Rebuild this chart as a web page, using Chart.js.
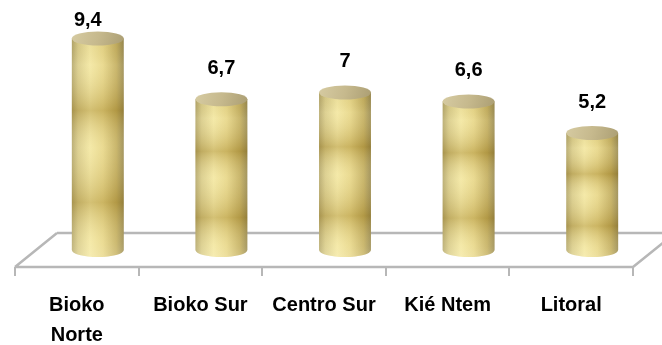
<!DOCTYPE html>
<html>
<head>
<meta charset="utf-8">
<script src="https://cdn.jsdelivr.net/npm/chart.js"></script>
<style>
  html, body { margin: 0; padding: 0; background: #fff; }
  #wrap { width: 662px; height: 345px; position: relative; }
</style>
</head>
<body>
<div id="wrap"><canvas id="chart"></canvas></div>
<script>
const regions = [['Bioko', 'Norte'], 'Bioko Sur', 'Centro Sur', 'Kié Ntem', 'Litoral'];
const values = [9.4, 6.7, 7, 6.6, 5.2];

const FONT = "'Liberation Sans', Arial, sans-serif";
const DEPTH = 42;      // horizontal shift of the floor's back edge
const FLOOR_HALF = 17; // half the floor depth in pixels

// floor: front edge with category ticks, back edge and the two sides
const floorPlugin = {
  id: 'floor',
  beforeDatasetsDraw(chart) {
    const { ctx, chartArea } = chart;
    const base = chart.scales.y.getPixelForValue(0);
    const front = base + FLOOR_HALF;
    const back = base - FLOOR_HALF;
    const left = chartArea.left;
    const right = chartArea.right;
    ctx.save();
    ctx.strokeStyle = '#b7b7b7';
    ctx.lineWidth = 2.5;
    ctx.beginPath();
    ctx.moveTo(left + DEPTH, back);
    ctx.lineTo(chart.width + 20, back);
    ctx.moveTo(left, front);
    ctx.lineTo(left + DEPTH, back);
    ctx.moveTo(right, front);
    ctx.lineTo(right + DEPTH, back);
    ctx.moveTo(left, front);
    ctx.lineTo(right, front);
    ctx.stroke();
    // tick marks between categories
    const step = (right - left) / values.length;
    ctx.lineWidth = 2;
    ctx.beginPath();
    for (let i = 0; i <= values.length; i++) {
      const tx = Math.round(left + i * step);
      ctx.moveTo(tx, front);
      ctx.lineTo(tx, front + 9);
    }
    ctx.stroke();
    ctx.restore();
  }
};

function drawCylinder(ctx, cx, top, base, w) {
  const rx = w / 2;
  const ry = 7;
  ctx.save();
  ctx.beginPath();
  ctx.moveTo(cx - rx, top);
  ctx.lineTo(cx - rx, base);
  ctx.ellipse(cx, base, rx, ry, 0, Math.PI, 0, true);
  ctx.lineTo(cx + rx, top);
  ctx.closePath();

  const side = ctx.createLinearGradient(cx - rx, 0, cx + rx, 0);
  side.addColorStop(0, '#b3a66c');
  side.addColorStop(0.12, '#d8cb8a');
  side.addColorStop(0.35, '#f3e7a3');
  side.addColorStop(0.6, '#e7d689');
  side.addColorStop(0.86, '#c2ad5f');
  side.addColorStop(1, '#978851');
  ctx.fillStyle = side;
  ctx.fill();

  // darker gold bands along the height
  const bands = ctx.createLinearGradient(0, top, 0, base + ry);
  bands.addColorStop(0, 'rgba(120,95,15,0.05)');
  bands.addColorStop(0.12, 'rgba(255,250,210,0.12)');
  bands.addColorStop(0.33, 'rgba(140,105,10,0.32)');
  bands.addColorStop(0.5, 'rgba(255,250,210,0.12)');
  bands.addColorStop(0.75, 'rgba(140,105,10,0.3)');
  bands.addColorStop(0.93, 'rgba(255,250,210,0.15)');
  bands.addColorStop(1, 'rgba(255,250,220,0.25)');
  ctx.fillStyle = bands;
  ctx.fill();

  // top cap
  ctx.beginPath();
  ctx.ellipse(cx, top, rx, ry, 0, 0, Math.PI * 2);
  const cap = ctx.createLinearGradient(cx - rx, top - ry, cx + rx, top + ry);
  cap.addColorStop(0, '#d6cba2');
  cap.addColorStop(0.5, '#c6b98d');
  cap.addColorStop(1, '#ab9e73');
  ctx.fillStyle = cap;
  ctx.fill();
  ctx.restore();
}

// cylinders and value labels placed from each bar element
const cylinderPlugin = {
  id: 'cylinders',
  afterDatasetsDraw(chart) {
    const { ctx } = chart;
    const meta = chart.getDatasetMeta(0);
    meta.data.forEach((bar, i) => {
      const cx = bar.x + DEPTH / 2;
      drawCylinder(ctx, cx, bar.y, bar.base, bar.width);
      // label sits above the cap, but is kept inside the canvas
      let ly = bar.y - 31;
      let lx = cx;
      if (ly < 20) { ly = 20; lx = cx - 10; }
      ctx.save();
      ctx.fillStyle = '#000';
      ctx.font = 'bold 20px ' + FONT;
      ctx.textAlign = 'center';
      ctx.textBaseline = 'middle';
      ctx.fillText(String(values[i]).replace('.', ','), lx, ly);
      ctx.restore();
    });
  }
};

new Chart(document.getElementById('chart'), {
  type: 'bar',
  data: {
    labels: regions,
    datasets: [{
      data: values,
      backgroundColor: 'rgba(0,0,0,0)',
      borderWidth: 0,
      barPercentage: 0.42,
      categoryPercentage: 1
    }]
  },
  options: {
    responsive: true,
    maintainAspectRatio: false,
    animation: false,
    events: [],
    layout: { padding: { top: 25, left: 15, right: 29, bottom: -45 } },
    plugins: { legend: { display: false }, tooltip: { enabled: false } },
    scales: {
      x: {
        grid: { display: false, drawTicks: false },
        border: { display: false },
        ticks: {
          color: '#000',
          padding: 40,
          maxRotation: 0,
          autoSkip: false,
          font: { family: FONT, size: 20, weight: 'bold', lineHeight: 1.5 }
        }
      },
      y: { display: false, min: 0, max: 10 }
    }
  },
  plugins: [floorPlugin, cylinderPlugin]
});
</script>
</body>
</html>
